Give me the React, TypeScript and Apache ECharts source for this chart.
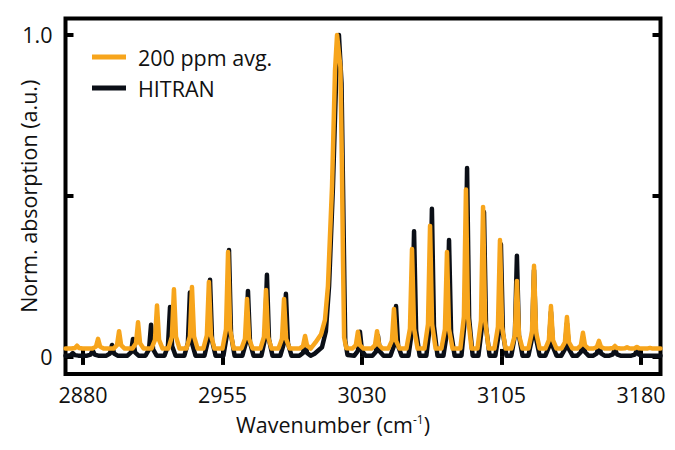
import React, { useEffect, useRef } from "react";
import * as echarts from "echarts";

// Axis ticks
const X_TICKS = [2880, 2955, 3030, 3105, 3180];
const Y_TICKS = [0, 0.5, 1.0];
const Y_LABELS = [0, 1.0];

const NAME_AVG = "200 ppm avg.";
const NAME_HITRAN = "HITRAN";

// 200 ppm averaged measurement: line centres (cm-1) and peak heights
const avgPeakX = [2876.8, 2888.1, 2899.4, 2909.6, 2919.8, 2928.9, 2938.6, 2947.7, 2958.0, 2968.2, 2978.4, 2988.1, 2999.4,
  3027.8, 3038.1, 3047.2, 3056.9, 3066.6, 3075.7, 3085.9, 3095.1, 3104.2, 3113.3, 3122.5, 3131.6, 3140.2, 3148.8,
  3157.4, 3166.0, 3172.5, 3177.8, 3184.8];
const avgPeakY = [0.035, 0.056, 0.08, 0.108, 0.16, 0.21, 0.217, 0.233, 0.326, 0.18, 0.208, 0.18, 0.065,
  0.078, 0.08, 0.149, 0.335, 0.407, 0.326, 0.52, 0.466, 0.363, 0.236, 0.283, 0.158, 0.124, 0.075,
  0.05, 0.034, 0.03, 0.031, 0.028];
const avgBaseline = 0.026;
// Q-branch outline (measured)
const avgQBranch: [number, number][] = [
  [3001.0, 0.033], [3005.0, 0.045], [3008.0, 0.07], [3010.1, 0.115], [3011.7, 0.22], [3013.9, 0.53], [3015.5, 0.89],
  [3016.6, 1.0], [3018.4, 0.9], [3019.2, 0.6], [3019.8, 0.3], [3020.4, 0.06], [3021.6, 0.027],
];

// HITRAN reference: line centres and peak heights
const hitPeakX = [2874.5, 2885.2, 2895.6, 2906.9, 2916.6, 2926.8, 2937.5, 2948.3, 2958.5, 2968.7, 2978.9, 2989.1, 2999.4,
  3028.9, 3038.6, 3048.3, 3058.0, 3067.6, 3076.8, 3086.5, 3095.6, 3104.7, 3113.3, 3122.5, 3131.6, 3140.2, 3148.8,
  3157.4, 3166.0, 3177.8];
const hitPeakY = [0.012, 0.02, 0.037, 0.056, 0.10, 0.155, 0.2, 0.24, 0.332, 0.205, 0.255, 0.196, 0.045,
  0.078, 0.066, 0.158, 0.39, 0.46, 0.363, 0.587, 0.45, 0.35, 0.314, 0.27, 0.14, 0.105, 0.06,
  0.04, 0.025, 0.02];
const hitBaseline = 0.004;
const hitQBranch: [number, number][] = [
  [3004.5, 0.01], [3008.5, 0.03], [3010.6, 0.08], [3012.3, 0.22], [3014.4, 0.53], [3016.3, 0.9],
  [3017.6, 1.0], [3019.0, 0.85], [3019.8, 0.53], [3020.6, 0.2], [3021.0, 0.05], [3022.2, 0.006],
];

const X_MIN = 2870.6;
const X_MAX = 3190.5;

function buildLine(px: number[], py: number[], base: number, q: [number, number][]): [number, number][] {
  const pts: [number, number][] = [];
  px.forEach((p, i) => {
    const h = py[i];
    const s = base + 0.2 * (h - base);
    pts.push([p - 3.0, base], [p - 1.1, s], [p, h], [p + 1.1, s], [p + 3.0, base]);
  });
  q.forEach((d) => pts.push(d));
  pts.sort((a, b) => a[0] - b[0]);
  return [[X_MIN, base], ...pts, [X_MAX, base]].filter((d) => d[0] >= X_MIN && d[0] <= X_MAX) as [number, number][];
}

const FONT = "Open Sans";
const ORANGE = "#F7A51C";
const DARK = "#0B0F17";

export default function App() {
  const ref = useRef<HTMLDivElement>(null);
  useEffect(() => {
    if (!ref.current) return;
    const chart = echarts.init(ref.current, undefined, { renderer: "svg" });
    const tickCommon = { show: true, inside: true, length: 8, lineStyle: { width: 4, color: "#000" } };
    const option: any = {
      animation: false,
      backgroundColor: "#fff",
      grid: {
        left: 65.5, right: 14.5, top: 18.5, bottom: 76,
        show: true, borderColor: "#000", borderWidth: 4, backgroundColor: "transparent",
        outerBoundsMode: "none",
      },
      legend: {
        data: [NAME_AVG, NAME_HITRAN],
        orient: "vertical",
        left: 92, top: 46, padding: 0,
        icon: "rect",
        itemWidth: 34, itemHeight: 5, itemGap: 9,
        textStyle: { fontFamily: FONT, fontSize: 21.5, color: "#111", lineHeight: 22, padding: [0, 0, 0, 7] },
      },
      xAxis: [
        {
          type: "value", min: X_MIN, max: X_MAX, position: "bottom",
          axisLine: { show: false }, splitLine: { show: false },
          axisTick: { ...tickCommon, customValues: X_TICKS },
          axisLabel: {
            customValues: X_TICKS, margin: 9, fontFamily: FONT, fontSize: 21.5, color: "#111",
            formatter: (v: number) => String(v),
          },
          name: "Wavenumber (cm{sup|-1})", nameLocation: "middle", nameGap: 39, nameMoveOverlap: false,
          nameTextStyle: {
            fontFamily: FONT, fontSize: 21.5, color: "#111", padding: [0, 60, 0, 0],
            rich: { sup: { fontFamily: FONT, fontSize: 12, color: "#111", verticalAlign: "top", padding: [0, 0, 10, 0] } },
          },
        },
        {
          type: "value", min: X_MIN, max: X_MAX, position: "top",
          axisLine: { show: false }, splitLine: { show: false },
          axisTick: { ...tickCommon, customValues: X_TICKS },
          axisLabel: { show: false },
        },
      ],
      yAxis: [
        {
          type: "value", min: -0.053, max: 1.051, position: "left",
          axisLine: { show: false }, splitLine: { show: false },
          axisTick: { ...tickCommon, customValues: Y_TICKS },
          axisLabel: {
            customValues: Y_LABELS, margin: 13, fontFamily: FONT, fontSize: 21.5, color: "#111",
            formatter: (v: number) => (v === 0 ? "0" : v.toFixed(1)),
          },
          name: "Norm. absorption (a.u.)", nameLocation: "middle", nameGap: 26, nameMoveOverlap: false,
          nameTextStyle: { fontFamily: FONT, fontSize: 21.5, color: "#111" },
        },
        {
          type: "value", min: -0.053, max: 1.051, position: "right",
          axisLine: { show: false }, splitLine: { show: false },
          axisTick: { ...tickCommon, customValues: Y_TICKS },
          axisLabel: { show: false },
        },
      ],
      series: [
        {
          name: NAME_HITRAN, type: "line", xAxisIndex: 0, yAxisIndex: 0,
          data: buildLine(hitPeakX, hitPeakY, hitBaseline, hitQBranch),
          showSymbol: false, symbol: "none", color: DARK,
          lineStyle: { color: DARK, width: 4.5, cap: "round", join: "round" },
        },
        {
          name: NAME_AVG, type: "line", xAxisIndex: 0, yAxisIndex: 0,
          data: buildLine(avgPeakX, avgPeakY, avgBaseline, avgQBranch),
          showSymbol: false, symbol: "none", color: ORANGE,
          lineStyle: { color: ORANGE, width: 4.5, cap: "round", join: "round" },
        },
      ],
    };
    chart.setOption(option);
    return () => chart.dispose();
  }, []);
  return <div ref={ref} style={{ width: 675, height: 450, position: "absolute", left: 0, top: 0 }} />;
}
